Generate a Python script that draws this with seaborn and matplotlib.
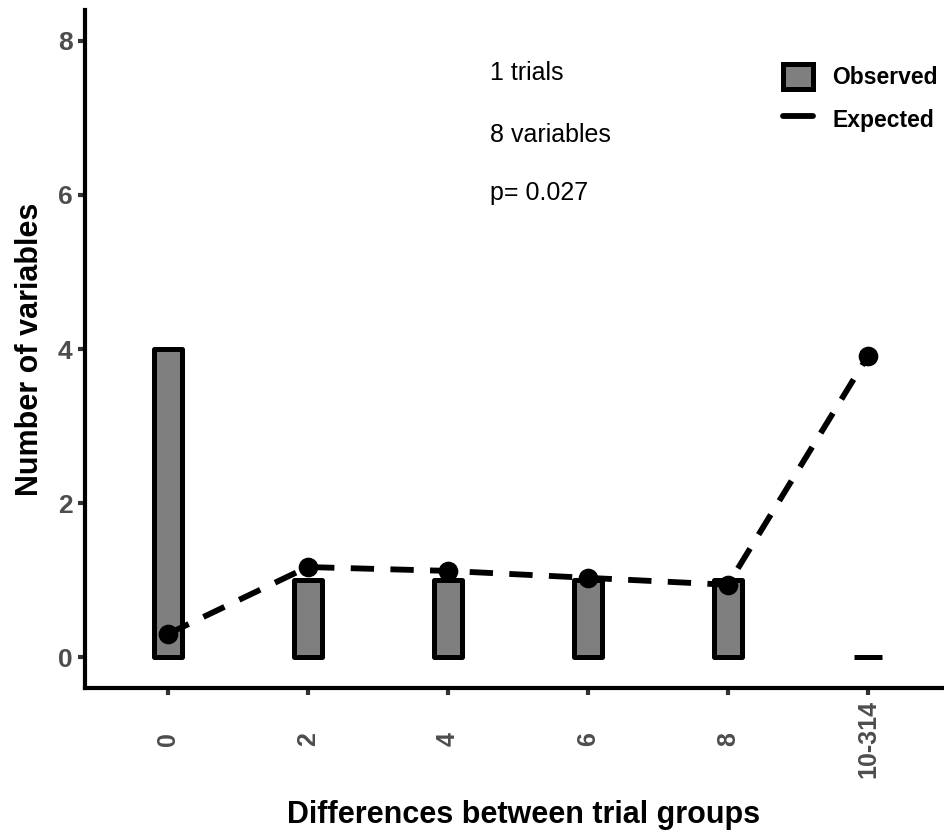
import matplotlib
matplotlib.use("Agg")
import matplotlib.pyplot as plt
from matplotlib.patches import Patch
from matplotlib.lines import Line2D
import seaborn as sns
import pandas as pd

groups = ["0", "2", "4", "6", "8", "10-314"]
observed = [4, 1, 1, 1, 1, 0]
expected = [0.30, 1.17, 1.12, 1.03, 0.94, 3.91]
y_ticks = [0, 2, 4, 6, 8]
notes = ["1 trials", "8 variables", "p= 0.027"]

sns.set_theme(style="ticks")
plt.rcParams["font.family"] = ["Liberation Sans", "DejaVu Sans"]

df = pd.DataFrame({"group": groups, "observed": observed, "expected": expected})

fig = plt.figure(figsize=(9.45, 8.3), dpi=100)
ax = fig.add_axes([85 / 945, 1 - 688 / 830, 1 - 85 / 945, (688 - 10) / 830])

# observed counts as outlined grey bars
sns.barplot(data=df, x="group", y="observed", order=groups, width=0.2,
            color="#7f7f7f", saturation=1, edgecolor="black", linewidth=3.6,
            ax=ax, zorder=2)
for p in ax.patches:
    p.set_joinstyle("round")

# expected counts as a dashed line with dots
sns.pointplot(data=df, x="group", y="expected", order=groups, color="black",
              markers="o", linestyles="--", ax=ax, errorbar=None,
              markersize=11, linewidth=4.2, zorder=3)
for ln in ax.lines:
    ln.set_dashes([4.0, 2.8])
    ln.set_dash_capstyle("butt")

ax.set_xlim(-0.59, 5.55)
ax.set_ylim(-0.4, 8.4)
ax.set_yticks(y_ticks)
ax.set_yticklabels([str(v) for v in y_ticks])
ax.tick_params(axis="both", bottom=True, left=True, length=5, width=3,
               color="#333333", labelcolor="#4d4d4d")
ax.tick_params(axis="y", labelsize=19, pad=4)
ax.tick_params(axis="x", labelsize=18, pad=32)
for lab in ax.get_xticklabels() + ax.get_yticklabels():
    lab.set_fontweight("bold")
for lab in ax.get_xticklabels():
    lab.set_rotation(90)
    lab.set_va("center")
    lab.set_ha("center")

for side in ["top", "right"]:
    ax.spines[side].set_visible(False)
for side in ["left", "bottom"]:
    ax.spines[side].set_linewidth(3)
    ax.spines[side].set_color("black")

ax.set_xlabel("Differences between trial groups", fontsize=22, fontweight="bold",
              color="black")
ax.set_ylabel("Number of variables", fontsize=22, fontweight="bold",
              color="black")
ax.xaxis.set_label_coords(0.51, -0.165)
ax.yaxis.set_label_coords(-0.046, 0.5)

for txt, yv in zip(notes, [7.49, 6.69, 5.94]):
    ax.text(2.3, yv, txt, fontsize=18, ha="left", va="baseline", color="black")

handles = [Patch(facecolor="#7f7f7f", edgecolor="black", linewidth=3.6),
           Line2D([0], [0], color="black", linewidth=4.2)]
leg = fig.legend(handles, ["Observed", "Expected"], loc="upper left",
                 bbox_to_anchor=(783 / 945, 1 - 64 / 830), frameon=False,
                 prop={"weight": "bold", "size": 16.5}, handlelength=1.3,
                 handleheight=1.3, handletextpad=0.85, labelspacing=0.75,
                 borderpad=0, borderaxespad=0, labelcolor="black")

fig.savefig("out.png", dpi=100)
